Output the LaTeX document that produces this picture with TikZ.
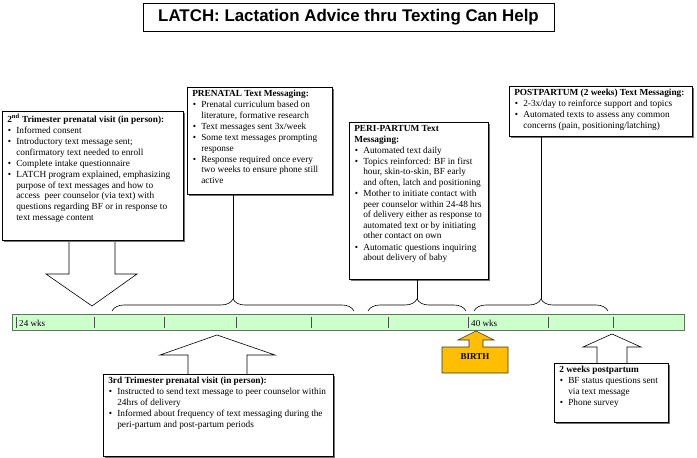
\documentclass[tikz,border=0pt]{standalone}
\usepackage{fontspec}
\setmainfont{Liberation Serif}
\newfontfamily\titlefont{Liberation Sans}
\usepackage{xcolor}
\definecolor{barfill}{RGB}{204,255,204}
\definecolor{barline}{RGB}{95,115,95}
\definecolor{birthgold}{RGB}{255,190,0}
\usetikzlibrary{positioning,calc,shadows,decorations.pathreplacing}

\newcommand\panel[3]{\begin{minipage}[c][#2pt][t]{#1pt}\fontsize{9.3}{10.6}\selectfont\raggedright #3\end{minipage}}
\newcommand\bitem[1]{\par\vspace{0.5pt}\hangindent=9pt\hangafter=1\noindent\hbox to 9pt{\hskip0.5pt\textbullet\hfil}#1}

\tikzset{
  infobox/.style={draw, fill=white, anchor=north west, inner xsep=5pt, inner ysep=3pt, line width=0.6pt,
    drop shadow={shadow xshift=1.3pt, shadow yshift=-1.3pt, fill=black!55, opacity=1}},
  blockarrow/.style={draw, fill=white, line width=0.6pt, line join=miter},
  timebrace/.style={decorate, decoration={brace, amplitude=12pt}, line width=0.6pt},
  stem/.style={line width=0.6pt},
  weektick/.style={draw=black!70, line width=0.7pt},
}

\begin{document}
\begin{tikzpicture}[x=1pt, y=-1pt]
  \useasboundingbox (0,0) rectangle (697,458);

  % title
  \node[draw, fill=white, line width=0.6pt, minimum width=411pt, minimum height=28pt,
    drop shadow={shadow xshift=1.3pt, shadow yshift=-1.3pt, fill=black!55, opacity=1}] (title) at (348.5,17)
    {\titlefont\bfseries\fontsize{16.9}{20}\selectfont LATCH: Lactation Advice thru Texting Can Help};

  % timeline
  \node[draw=barline, fill=barfill, line width=0.7pt, minimum width=672pt, minimum height=16pt, inner sep=0pt,
    drop shadow={shadow xshift=0.8pt, shadow yshift=-1pt, fill=black!50, opacity=1}] (bar) at (348,322) {};
  \foreach \x in {16,94,164,236,311,388,468,548,613}
    \draw[weektick] (\x,317) -- (\x,328);
  \node[anchor=west, inner sep=0pt, font=\fontsize{9.1}{10}\selectfont] (wk24) at (19,323) {24 wks};
  \node[anchor=west, inner sep=0pt, font=\fontsize{9.1}{10}\selectfont] (wk40) at (471,323) {40 wks};

  % block arrows (drawn under the boxes)
  \draw[blockarrow] (69,241) -- (69,274) -- (46,274) -- (92,306) -- (137,274) -- (115,274) -- (115,241);
  \draw[blockarrow] (188,374) -- (188,355) -- (160,355) -- (217,335) -- (275,355) -- (247,355) -- (247,374);
  \draw[blockarrow] (597,363) -- (597,347) -- (583,347) -- (612,334) -- (641,347) -- (627,347) -- (627,363);
  \draw[draw=black!80, fill=birthgold, line width=0.6pt] (442,347) -- (469,347) -- (469,340) -- (458,340) -- (476,331)
    -- (494,340) -- (483,340) -- (483,347) -- (508,347) -- (508,373) -- (442,373) -- cycle;
  \node[font=\bfseries\fontsize{9}{10}\selectfont] (birth) at (475,357) {BIRTH};

  % braces over the bar
  \draw[timebrace] (112,311) -- (354,311);
  \draw[timebrace] (368,311) -- (466,311);
  \draw[timebrace] (474,311) -- (608,311);
  \coordinate (preTip) at (233,299);
  \coordinate (periTip) at (417,299);
  \coordinate (postTip) at (541,299);

  % boxes
  \node[infobox] (visit2) at (2,111) {\panel{171}{123}{%
    \textbf{2\textsuperscript{nd} Trimester prenatal visit (in person):}
    \bitem{Informed consent}
    \bitem{Introductory text message sent;\newline confirmatory text needed to enroll}
    \bitem{Complete intake questionnaire}
    \bitem{LATCH program explained, emphasizing\newline purpose of text messages and how to\newline access\ \ peer counselor (via text) with\newline questions regarding BF or in response to\newline text message content}}};

  \node[infobox] (prenatal) at (187,87) {\panel{135}{101}{%
    \textbf{PRENATAL Text Messaging:}
    \bitem{Prenatal curriculum based on\newline literature, formative research}
    \bitem{Text messages sent 3x/week}
    \bitem{Some text messages prompting\newline response}
    \bitem{Response required once every\newline two weeks to ensure phone still\newline active}}};

  \node[infobox] (peri) at (349,122) {\panel{129}{151}{%
    \textbf{PERI-PARTUM Text\newline Messaging:}
    \bitem{Automated text daily}
    \bitem{Topics reinforced: BF in first\newline hour, skin-to-skin, BF early\newline and often, latch and positioning}
    \bitem{Mother to initiate contact with\newline peer counselor within 24-48 hrs\newline of delivery either as response to\newline automated text or by initiating\newline other contact on own}
    \bitem{Automatic questions inquiring\newline about delivery of baby}}};

  \node[infobox] (postpartum) at (509,86) {\panel{173}{44}{%
    \textbf{POSTPARTUM (2 weeks) Text Messaging:}
    \bitem{2-3x/day to reinforce support and topics}
    \bitem{Automated texts to assess any common\newline concerns (pain, positioning/latching)}}};

  \node[infobox] (visit3) at (103,374) {\panel{220}{76}{%
    \textbf{3rd Trimester prenatal visit (in person):}
    \bitem{Instructed to send text message to peer counselor within\newline 24hrs of delivery}
    \bitem{Informed about frequency of text messaging during the\newline peri-partum and post-partum periods}}};

  \node[infobox] (post2wk) at (554,363) {\panel{104}{53}{%
    \textbf{2 weeks postpartum}
    \bitem{BF status questions sent\newline via text message}
    \bitem{Phone survey}}};

  % stems from boxes to braces
  \draw[stem] (prenatal.south -| preTip) -- (preTip);
  \draw[stem] (peri.south -| periTip) -- (periTip);
  \draw[stem] (postpartum.south -| postTip) -- (postTip);
\end{tikzpicture}
\end{document}
